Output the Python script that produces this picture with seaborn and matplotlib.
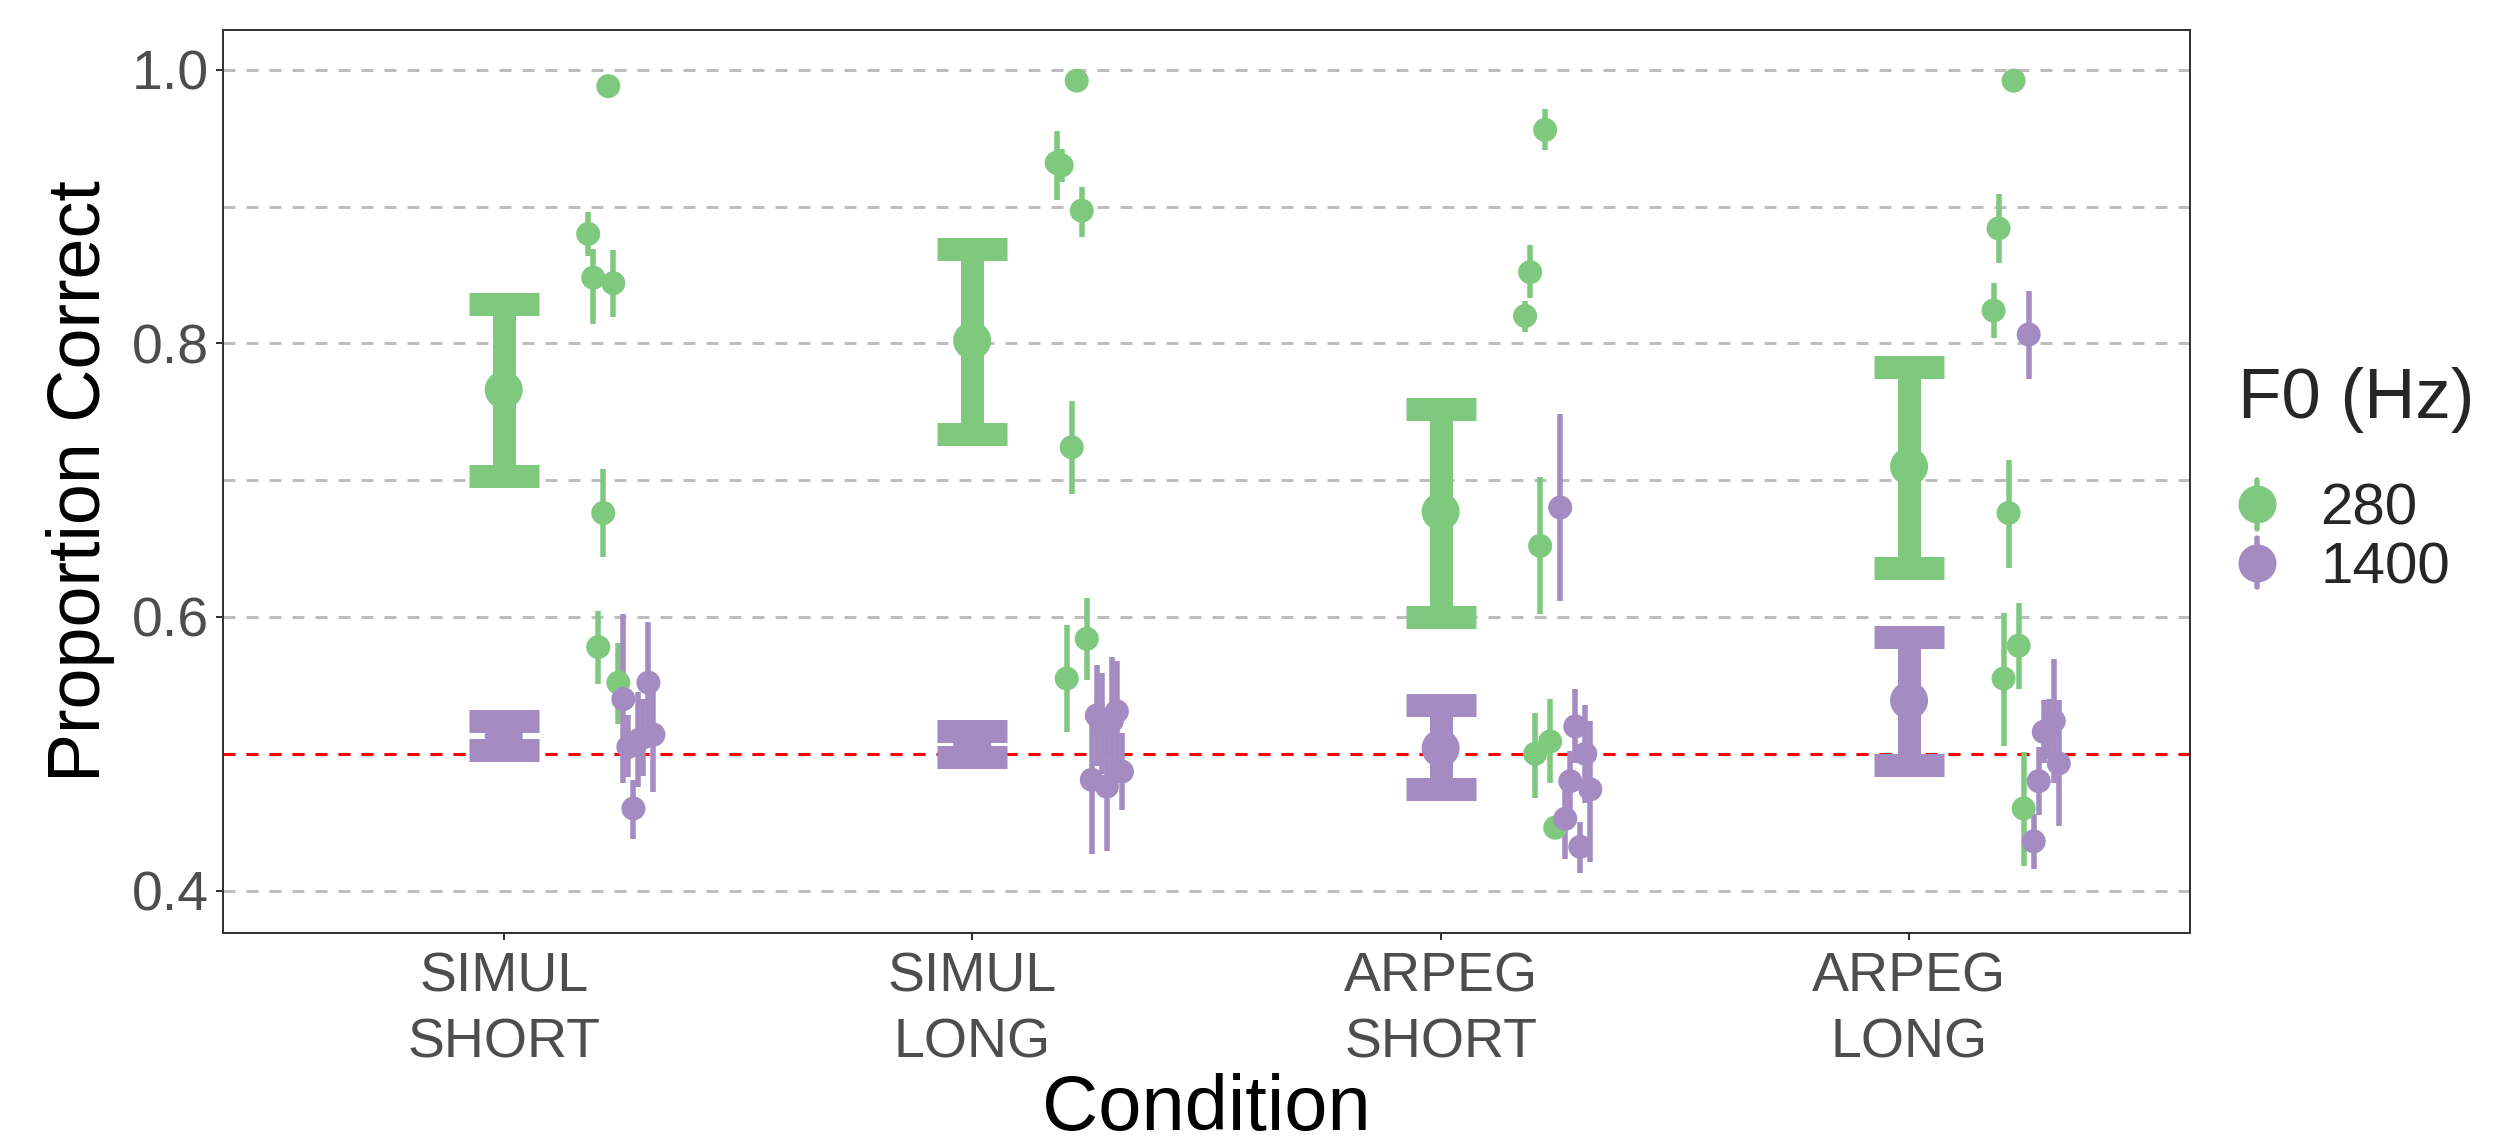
import numpy as np
import pandas as pd
import matplotlib
matplotlib.use("Agg")
import matplotlib.pyplot as plt
import seaborn as sns
from matplotlib.lines import Line2D
from matplotlib.legend_handler import HandlerBase

# ---------------- data ----------------
conditions = ["SIMUL\nSHORT", "SIMUL\nLONG", "ARPEG\nSHORT", "ARPEG\nLONG"]
f0_levels = ["280", "1400"]
subjects = ["S1", "S2", "S3", "S4", "S5", "S6", "S7"]

# group summaries (mean and 95% CI) per condition
mean_280 = [0.766, 0.802, 0.677, 0.710]
lo_280 = [0.703, 0.734, 0.600, 0.636]
hi_280 = [0.829, 0.869, 0.752, 0.783]
mean_1400 = [0.513, 0.507, 0.504, 0.539]
lo_1400 = [0.503, 0.498, 0.474, 0.492]
hi_1400 = [0.524, 0.517, 0.536, 0.585]

# individual subjects: rows = conditions, cols = subjects
vals_280 = [[0.880, 0.848, 0.578, 0.676, 0.988, 0.844, 0.552],
            [0.932, 0.930, 0.555, 0.724, 0.992, 0.897, 0.584],
            [0.820, 0.852, 0.500, 0.652, 0.956, 0.509, 0.446],
            [0.824, 0.884, 0.555, 0.676, 0.992, 0.579, 0.460]]
lo_ind_280 = [[0.864, 0.814, 0.551, 0.644, 0.986, 0.819, 0.522],
              [0.905, 0.918, 0.516, 0.690, 0.990, 0.878, 0.554],
              [0.808, 0.833, 0.468, 0.602, 0.941, 0.479, 0.444],
              [0.804, 0.859, 0.506, 0.636, 0.990, 0.547, 0.418]]
hi_ind_280 = [[0.896, 0.869, 0.604, 0.708, 0.990, 0.868, 0.581],
              [0.955, 0.942, 0.594, 0.758, 0.994, 0.914, 0.614],
              [0.831, 0.872, 0.530, 0.702, 0.971, 0.540, 0.448],
              [0.844, 0.909, 0.603, 0.715, 0.994, 0.610, 0.501]]
vals_1400 = [[0.540, 0.505, 0.460, 0.510, 0.512, 0.552, 0.514],
             [0.481, 0.528, 0.522, 0.476, 0.524, 0.531, 0.487],
             [0.680, 0.4525, 0.480, 0.520, 0.432, 0.500, 0.474],
             [0.8065, 0.436, 0.480, 0.516, 0.518, 0.524, 0.493]]
lo_ind_1400 = [[0.479, 0.483, 0.438, 0.476, 0.484, 0.508, 0.472],
               [0.427, 0.491, 0.485, 0.429, 0.477, 0.494, 0.459],
               [0.612, 0.423, 0.458, 0.493, 0.413, 0.464, 0.421],
               [0.774, 0.416, 0.455, 0.493, 0.496, 0.479, 0.447]]
hi_ind_1400 = [[0.602, 0.528, 0.481, 0.545, 0.540, 0.596, 0.556],
               [0.535, 0.565, 0.559, 0.523, 0.571, 0.568, 0.515],
               [0.748, 0.480, 0.502, 0.547, 0.450, 0.536, 0.524],
               [0.838, 0.456, 0.505, 0.539, 0.540, 0.569, 0.539]]

colors = {"280": "#7FC97F", "1400": "#A48BC2"}

# ---------------- build long tables ----------------
# individual points are shifted right of the category and dodged by subject x F0
shift, dodge_w = 0.25, 0.15
n_groups = len(f0_levels) * len(subjects)
rows = []
ind = {"280": (vals_280, lo_ind_280, hi_ind_280), "1400": (vals_1400, lo_ind_1400, hi_ind_1400)}
for fi, f0 in enumerate(f0_levels):
    v, lo, hi = ind[f0]
    for ci, cond in enumerate(conditions):
        for si, subj in enumerate(subjects):
            g = fi * len(subjects) + si
            x = ci + shift + ((g + 0.5) / n_groups - 0.5) * dodge_w
            rows.append(dict(condition=cond, f0=f0, subject=subj, x=x,
                             prop=v[ci][si], lo=lo[ci][si], hi=hi[ci][si]))
df = pd.DataFrame(rows)

summ = {"280": (mean_280, lo_280, hi_280), "1400": (mean_1400, lo_1400, hi_1400)}
srows = []
for f0 in f0_levels:
    m, lo, hi = summ[f0]
    for ci, cond in enumerate(conditions):
        srows.append(dict(condition=cond, f0=f0, x=ci, prop=m[ci], lo=lo[ci], hi=hi[ci]))
sdf = pd.DataFrame(srows)

# ---------------- style ----------------
sns.set_theme(style="white")
plt.rcParams["font.family"] = ["Liberation Sans", "DejaVu Sans"]
plt.rcParams["lines.scale_dashes"] = False

PX = 0.72  # points per pixel at dpi=100
fig = plt.figure(figsize=(24.99, 11.42), dpi=100)
ax = fig.add_axes([0.0891, 0.183, 0.8764 - 0.0891, 0.9737 - 0.183])

ax.set_xlim(-0.6, 3.6)
ax.set_ylim(0.369, 1.029)
ax.set_yticks([0.4, 0.6, 0.8, 1.0])
ax.set_yticks([0.5, 0.7, 0.9], minor=True)
ax.set_yticklabels(["0.4", "0.6", "0.8", "1.0"])
ax.set_xticks(range(len(conditions)))
ax.set_xticklabels(conditions)

dash = (0, (12 * PX, 11 * PX))
ax.grid(axis="y", which="both", color="#BEBEBE", linestyle=dash, linewidth=3 * PX, zorder=0)
ax.grid(axis="x", visible=False)
ax.set_axisbelow(True)
ax.axhline(0.5, color="#FF0000", linestyle=dash, linewidth=3 * PX, zorder=1)

# summary errorbars (wide caps) + mean points
for f0 in f0_levels:
    d = sdf[sdf.f0 == f0]
    ax.errorbar(d.x, d.prop, yerr=[d.prop - d.lo, d.hi - d.prop], fmt="none",
                ecolor=colors[f0], elinewidth=23 * PX, capsize=35 * PX,
                capthick=23 * PX, zorder=3)
sns.scatterplot(data=sdf, x="x", y="prop", hue="f0", hue_order=f0_levels, palette=colors,
                s=(38 * PX) ** 2, linewidth=0, legend=False, ax=ax, zorder=3.5)

# individual errorbars + points
for f0 in f0_levels:
    d = df[df.f0 == f0]
    ax.vlines(d.x, d.lo, d.hi, color=colors[f0], linewidth=5.5 * PX, zorder=4)
sns.scatterplot(data=df, x="x", y="prop", hue="f0", hue_order=f0_levels, palette=colors,
                s=(24 * PX) ** 2, linewidth=0, legend=False, ax=ax, zorder=5)

# axes styling
for sp in ax.spines.values():
    sp.set_color("#333333")
    sp.set_linewidth(2 * PX)
ax.tick_params(which="major", length=7 * PX, width=2 * PX, color="#333333",
               labelsize=40, labelcolor="#4D4D4D", pad=5, left=True, bottom=True)
ax.tick_params(axis="x", which="major", pad=8)
ax.tick_params(which="minor", length=0)
for lab in ax.get_xticklabels():
    lab.set_linespacing(1.35)
ax.set_xlabel("Condition", fontsize=56, color="black", labelpad=3)
ax.set_ylabel("Proportion Correct", fontsize=53, color="black", labelpad=12)


# legend with pointrange-style keys
class PointRangeHandler(HandlerBase):
    def create_artists(self, legend, orig_handle, xdescent, ydescent, width, height, fontsize, trans):
        cx = width / 2 - xdescent
        cy = height / 2 - ydescent
        c = orig_handle.get_color()
        vline = Line2D([cx, cx], [cy - 0.6 * height, cy + 0.6 * height], color=c,
                       linewidth=5.5 * PX, transform=trans)
        dot = Line2D([cx], [cy], marker="o", markersize=38 * PX, color=c,
                     markeredgewidth=0, linestyle="none", transform=trans)
        return [vline, dot]


handles = [Line2D([], [], color=colors[f]) for f in f0_levels]
leg = fig.legend(handles, f0_levels, title="F0 (Hz)", loc="upper left",
                 bbox_to_anchor=(0.8956, 0.679), frameon=False, fontsize=42,
                 title_fontsize=51, handler_map={Line2D: PointRangeHandler()},
                 handlelength=0.66, handleheight=0.7, handletextpad=0.75,
                 labelspacing=0.08, borderpad=0, borderaxespad=0, alignment="left")
leg._legend_box.sep = 36

fig.savefig("out.png", dpi=100)
